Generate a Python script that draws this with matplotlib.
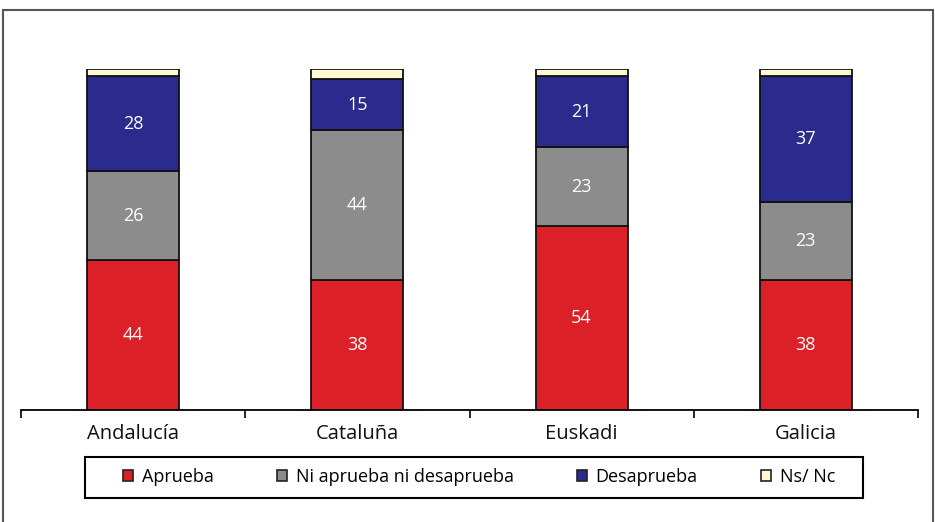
import numpy as np
import matplotlib
matplotlib.use("Agg")
import matplotlib.pyplot as plt
from matplotlib.patches import Rectangle

plt.rcParams['font.family'] = ['Open Sans', 'DejaVu Sans']

# datos
regiones = ['Andalucía', 'Cataluña', 'Euskadi', 'Galicia']
aprueba = [44, 38, 54, 38]
ni_ni = [26, 44, 23, 23]
desaprueba = [28, 15, 21, 37]
ns_nc = [2, 3, 2, 2]
series_nombres = ['Aprueba', 'Ni aprueba ni desaprueba', 'Desaprueba', 'Ns/ Nc']
colores = ['#DC2027', '#8C8C8C', '#2A2B8C', '#FFF8D2']

fig = plt.figure(figsize=(9.35, 5.22), dpi=100)
ax = fig.add_axes([21 / 935, 112 / 522, 897 / 935, 341 / 522])

x = np.arange(len(regiones))
fondo = np.zeros(len(regiones))
series = [aprueba, ni_ni, desaprueba, ns_nc]
for vals, nombre, col in zip(series, series_nombres, colores):
    ax.bar(x, vals, width=0.41, bottom=fondo, color=col, edgecolor='#111111',
           linewidth=1.3, label=nombre)
    # etiquetas en blanco (menos Ns/Nc)
    if nombre != 'Ns/ Nc':
        for xi, b, v in zip(x, fondo, vals):
            ax.text(xi, b + v / 2, str(v), ha='center', va='center',
                    color='white', fontsize=13)
    fondo = fondo + np.array(vals)

ax.set_xlim(-0.5, len(regiones) - 0.5)
ax.set_ylim(0, 100)
for lado in ['top', 'right', 'left']:
    ax.spines[lado].set_visible(False)
ax.spines['bottom'].set_linewidth(1.3)
ax.set_yticks([])
ax.set_xticks(np.arange(-0.5, len(regiones)))
ax.set_xticklabels([])
ax.tick_params(axis='x', length=6, width=1.2, direction='out')
for xi, r in zip(x, regiones):
    ax.text(xi, -4.2, r, ha='center', va='top', fontsize=14.5,
            color='#111111', clip_on=False)

# leyenda (sin marco; el marco va aparte)
leg = fig.legend(loc='center', ncol=4, bbox_to_anchor=(479 / 935, 1 - 477 / 522),
                 frameon=False, fontsize=13, handlelength=0.55,
                 handleheight=0.55, handletextpad=0.5, columnspacing=3.5)
for h in leg.legend_handles:
    h.set_edgecolor('#222222')
    h.set_linewidth(1.2)
fig.patches.append(Rectangle((85 / 935, 1 - 498 / 522), 778 / 935, 41 / 522,
                             transform=fig.transFigure, fill=False,
                             edgecolor='black', linewidth=1.5))

# marco exterior
fig.patches.append(Rectangle((3 / 935, -0.05), 930 / 935, 1 - 10 / 522 + 0.05,
                             transform=fig.transFigure, fill=False,
                             edgecolor='#555555', linewidth=1.5))

fig.savefig('out.png', dpi=100)
